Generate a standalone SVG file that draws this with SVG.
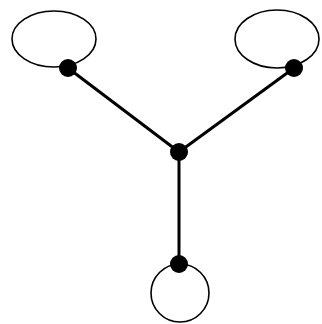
<svg xmlns="http://www.w3.org/2000/svg" width="322" height="324" viewBox="0 0 322 324">
<style>
.loop{fill:none;stroke:#000;stroke-width:1.6}
.edge{stroke:#000;stroke-width:3;fill:none}
.node{fill:#000}
</style>
<rect width="322" height="324" fill="#fff"/>
<g id="connectors">
<line class="edge" x1="68" y1="68" x2="179" y2="152"/>
<line class="edge" x1="294" y1="68" x2="179" y2="152"/>
<line class="edge" x1="179" y1="152" x2="179" y2="264"/>
<ellipse class="loop" cx="54" cy="39" rx="42" ry="28"/>
<ellipse class="loop" cx="277" cy="39" rx="42" ry="29"/>
<ellipse class="loop" cx="180" cy="293" rx="29" ry="29"/>
</g>
<g id="n1"><circle class="node" cx="68" cy="68" r="9"/></g>
<g id="n2"><circle class="node" cx="294" cy="68" r="9"/></g>
<g id="n3"><circle class="node" cx="179" cy="152" r="9"/></g>
<g id="n4"><circle class="node" cx="179" cy="264" r="9"/></g>
</svg>
